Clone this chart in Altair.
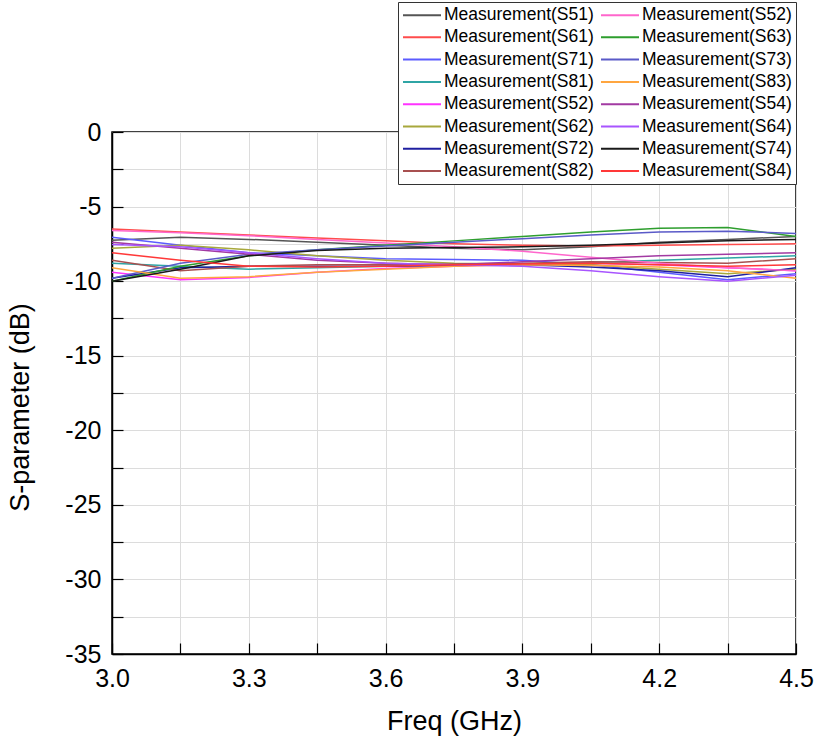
import altair as alt
import pandas as pd

freq = [3.0, 3.15, 3.3, 3.45, 3.6, 3.75, 3.9, 4.05, 4.2, 4.35, 4.5]

# legend order (column-major: left column top to bottom, then right column)
labels = [
    "Measurement(S51)", "Measurement(S61)", "Measurement(S71)", "Measurement(S81)",
    "Measurement(S52) ", "Measurement(S62)", "Measurement(S72)", "Measurement(S82)",
    "Measurement(S52)", "Measurement(S63)", "Measurement(S73)", "Measurement(S83)",
    "Measurement(S54)", "Measurement(S64)", "Measurement(S74)", "Measurement(S84)",
]
colors = [
    "#555555", "#ff4c4c", "#5c5cff", "#2fa5a5",
    "#ff33ff", "#a8a83c", "#1f1fa0", "#a85050",
    "#ff66cc", "#2e9e2e", "#5a5ac8", "#ffa640",
    "#a23aa2", "#a855ff", "#1a1a1a", "#ff3838",
]

s51 = [-7.25, -7.05, -7.2, -7.4, -7.6, -7.8, -7.9, -7.7, -7.4, -7.2, -7.0]
s61 = [-6.5, -6.7, -6.9, -7.1, -7.3, -7.5, -7.6, -7.65, -7.6, -7.55, -7.5]
s71 = [-7.05, -7.6, -8.1, -8.3, -8.5, -8.55, -8.6, -8.9, -9.4, -9.9, -9.5]
s81 = [-8.8, -9.0, -9.2, -9.1, -9.0, -8.9, -8.85, -8.75, -8.6, -8.45, -8.3]
s52b = [-9.4, -9.9, -9.75, -9.4, -9.15, -9.0, -8.85, -8.8, -8.9, -9.1, -9.3]
s62 = [-7.8, -7.6, -7.9, -8.3, -8.6, -8.8, -8.85, -8.9, -9.2, -9.5, -9.2]
s72 = [-9.8, -9.1, -9.0, -9.0, -9.0, -8.95, -8.9, -9.05, -9.3, -9.7, -9.1]
s82 = [-8.6, -9.3, -9.0, -8.9, -8.9, -8.85, -8.8, -8.7, -8.75, -8.8, -8.5]
s52 = [-6.6, -6.75, -6.95, -7.2, -7.45, -7.7, -8.0, -8.4, -8.8, -9.1, -9.3]
s63 = [-10.0, -9.0, -8.3, -7.9, -7.6, -7.3, -7.0, -6.7, -6.45, -6.4, -7.0]
s73 = [-9.8, -8.8, -8.2, -7.9, -7.65, -7.4, -7.15, -6.9, -6.7, -6.65, -6.8]
s83 = [-9.1, -9.8, -9.7, -9.4, -9.2, -9.0, -8.9, -8.95, -9.05, -9.3, -9.8]
s54 = [-7.4, -7.8, -8.2, -8.6, -8.8, -8.9, -8.7, -8.5, -8.3, -8.2, -8.1]
s64 = [-7.55, -7.7, -8.1, -8.5, -8.8, -8.9, -9.0, -9.3, -9.7, -10.0, -9.6]
s74 = [-10.0, -9.2, -8.3, -7.95, -7.8, -7.75, -7.7, -7.6, -7.45, -7.3, -7.2]
s84 = [-8.1, -8.6, -9.0, -9.05, -9.0, -8.9, -8.85, -8.8, -8.9, -9.0, -8.9]

series_values = [s51, s61, s71, s81, s52b, s62, s72, s82,
                 s52, s63, s73, s83, s54, s64, s74, s84]

x_ticks = [3.0, 3.15, 3.3, 3.45, 3.6, 3.75, 3.9, 4.05, 4.2, 4.35, 4.5]
y_ticks = [-35, -32.5, -30, -27.5, -25, -22.5, -20, -17.5, -15, -12.5,
           -10, -7.5, -5, -2.5, 0]

rows = []
for lab, vals in zip(labels, series_values):
    for f, v in zip(freq, vals):
        rows.append({"freq": f, "value": v, "series": lab})
df = pd.DataFrame(rows)

FONT = "Liberation Sans"
xscale = alt.Scale(domain=[3.0, 4.5], nice=False, zero=False)
yscale = alt.Scale(domain=[-35, 0], nice=False, zero=False)

lines = alt.Chart(df).mark_line(strokeWidth=1.5, clip=True).encode(
    x=alt.X("freq:Q", scale=xscale,
            axis=alt.Axis(values=x_ticks, title="Freq (GHz)", orient="bottom",
                          labelExpr="abs(datum.value*10 - round(datum.value*10)) < 0.01 && round(datum.value*10) % 3 == 0 ? format(datum.value, '.1f') : ''",
                          grid=True, gridColor="#dcdcdc", gridWidth=1,
                          ticks=False, domain=True, domainColor="#000000", domainWidth=1.5,
                          labelFontSize=25, labelFont=FONT, labelColor="#000000",
                          labelPadding=12, labelFlush=False,
                          titleFontSize=27, titleFont=FONT, titleFontWeight="normal",
                          titleColor="#000000", titlePadding=17)),
    y=alt.Y("value:Q", scale=yscale,
            axis=alt.Axis(values=y_ticks, title="S-parameter (dB)", orient="left",
                          labelExpr="datum.value % 5 == 0 ? '' + datum.value : ''",
                          grid=True, gridColor="#dcdcdc", gridWidth=1,
                          ticks=False, domain=True, domainColor="#000000", domainWidth=1.5,
                          labelFontSize=25, labelFont=FONT, labelColor="#000000",
                          labelPadding=11, labelFlush=False,
                          titleFontSize=27, titleFont=FONT, titleFontWeight="normal",
                          titleColor="#000000", titlePadding=30, titleY=275)),
    color=alt.Color("series:N",
                    scale=alt.Scale(domain=labels, range=colors),
                    sort=labels,
                    legend=alt.Legend(
                        title=None, orient="none", legendX=286, legendY=-130,
                        columns=2, direction="vertical",
                        symbolType="M-1,0L3.75,0", symbolSize=256, symbolStrokeWidth=2,
                        labelFont=FONT, labelFontSize=17.5, labelColor="#000000",
                        labelOffset=24, labelLimit=300,
                        rowPadding=4.3, columnPadding=3, padding=4,
                        strokeColor="#333333", fillColor="#ffffff")),
    detail="series:N",
)

tick_layer = alt.Chart(df).mark_point(opacity=0).encode(
    x=alt.X("freq:Q", scale=xscale,
            axis=alt.Axis(values=x_ticks, orient="bottom", offset=-11, tickSize=11,
                          tickColor="#000000", tickWidth=1.2,
                          labels=False, domain=False, grid=False, title=None)),
    y=alt.Y("value:Q", scale=yscale,
            axis=alt.Axis(values=y_ticks, orient="left", offset=-11, tickSize=11,
                          tickColor="#000000", tickWidth=1.2,
                          labels=False, domain=False, grid=False, title=None)),
)

chart = alt.layer(lines, tick_layer).resolve_axis(
    x="independent", y="independent"
).properties(
    width=684, height=522,
    autosize=alt.AutoSizeParams(type="none"),
    padding={"left": 112, "top": 132, "right": 19, "bottom": 90},
    background="#ffffff",
).configure_view(
    stroke="#000000", strokeWidth=1.5,
)

chart.save("out.html", embed_options={"renderer": "svg", "actions": False})
